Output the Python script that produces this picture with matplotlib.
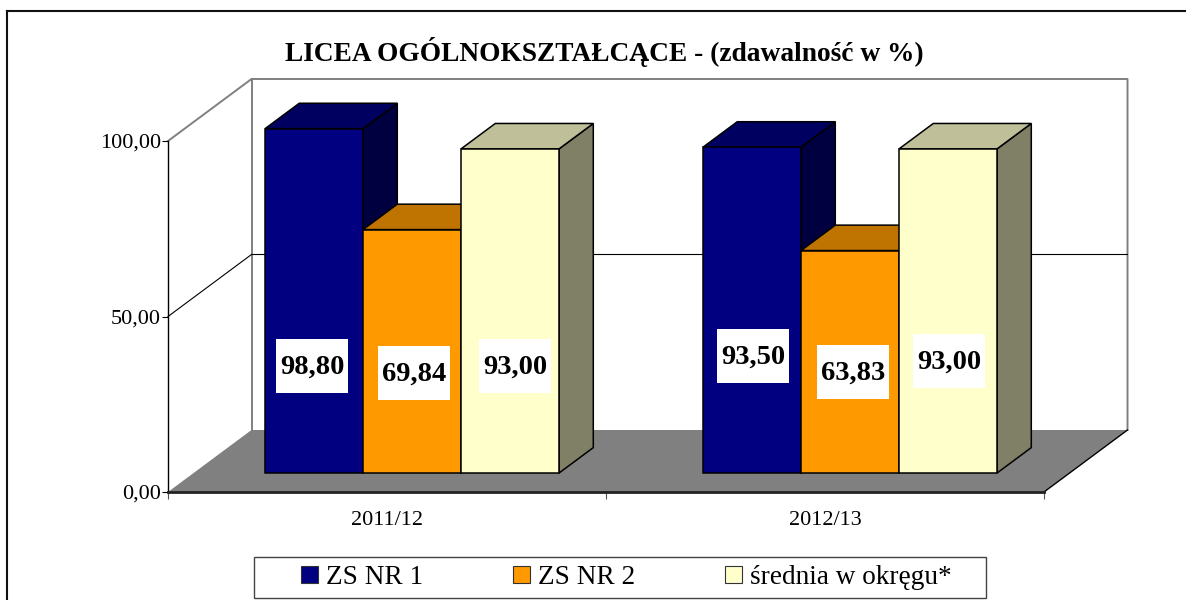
import matplotlib
matplotlib.use("Agg")
import matplotlib.pyplot as plt
from matplotlib.lines import Line2D
from matplotlib.patches import Patch, Polygon, Rectangle
from matplotlib.transforms import IdentityTransform

plt.rcParams['font.family'] = ['Liberation Serif', 'DejaVu Serif']

years = ["2011/12", "2012/13"]
series_names = ["ZS NR 1", "ZS NR 2", "średnia w okręgu*"]
zs1 = [98.80, 93.50]
zs2 = [69.84, 63.83]
okreg = [93.00, 93.00]
y_ticks = [0, 50, 100]

front_colors = ["#000080", "#FF9900", "#FFFFCC"]
top_colors = ["#000060", "#BF7300", "#BFBF99"]
side_colors = ["#000040", "#804D00", "#808066"]

W, H = 1186, 600
fig = plt.figure(figsize=(W / 100, H / 100), dpi=100)
ax = fig.add_axes([168 / W, 1 - 492 / H, 876 / W, 351 / H])
ax.set_xlim(0, 2)
ax.set_ylim(0, 100)

# depth of the fake 3d box, in data units
DX, DY = 83.5 / 438, 62 / 3.51
BAR_W = 98 / 438
MARGIN = 71.5 / 438
BAR_F0 = 0.306  # where the bars start in the box depth
BAR_D = 0.41
BAR_SCALE = 0.993  # bars sit deeper in the box so they come out a bit shorter


def pt(x, y, f=0.0):
    return (x + DX * f, y + DY * f)


# walls and floor
ax.add_patch(Polygon([pt(0, 0, 1), pt(2, 0, 1), pt(2, 100, 1), pt(0, 100, 1)], fc="white", ec="none", zorder=0.5, clip_on=False))
ax.add_patch(Polygon([pt(0, 0), pt(2, 0), pt(2, 0, 1), pt(0, 0, 1)], fc="#808080", ec="none", zorder=0.6, clip_on=False))
grey = dict(color="#808080", lw=1.4, clip_on=False, zorder=0.7, solid_capstyle="projecting")
ax.plot(*zip(pt(0, 100), pt(0, 100, 1), pt(2, 100, 1), pt(2, 0, 1)), **grey)
ax.plot(*zip(pt(0, 0, 1), pt(0, 100, 1)), **grey)
ax.plot(*zip(pt(2, 0), pt(2, 0, 1)), color="black", lw=1, clip_on=False, zorder=0.7)
ax.plot(*zip(pt(0, 50), pt(0, 50, 1), pt(2, 50, 1)), color="black", lw=0.8, clip_on=False, zorder=0.7)

# bars
for g, vals in enumerate(zip(zs1, zs2, okreg)):
    for s, v in enumerate(vals):
        h = v * BAR_SCALE
        x0 = g + MARGIN + s * BAR_W
        x1 = x0 + BAR_W
        f0, f1 = BAR_F0, BAR_F0 + BAR_D
        style = dict(ec="black", lw=1.1, joinstyle="miter", clip_on=False, zorder=3 + g + s * 0.1)
        ax.add_patch(Polygon([pt(x1, 0, f0), pt(x1, 0, f1), pt(x1, h, f1), pt(x1, h, f0)], fc=side_colors[s], **style))
        ax.add_patch(Polygon([pt(x0, h, f0), pt(x1, h, f0), pt(x1, h, f1), pt(x0, h, f1)], fc=top_colors[s], **style))
        ax.add_patch(Polygon([pt(x0, 0, f0), pt(x1, 0, f0), pt(x1, h, f0), pt(x0, h, f0)], fc=front_colors[s], **style))

# value labels, moved by hand in the original
label_x = [[312, 414, 515], [753, 853, 949]]
label_y = [[366, 373, 366], [356, 372, 361]]
for g, vals in enumerate(zip(zs1, zs2, okreg)):
    for s, v in enumerate(vals):
        cx, cy = label_x[g][s], H - label_y[g][s]
        ax.add_patch(Rectangle((cx - 36, cy - 27), 72, 54, transform=IdentityTransform(), fc="white", ec="none",
                               clip_on=False, zorder=9))
        ax.text(cx, cy - 1, f"{v:.2f}".replace(".", ","), transform=IdentityTransform(),
                ha="center", va="center", fontsize=20.5, fontweight="bold", zorder=10)

# axes
for side in ["top", "right"]:
    ax.spines[side].set_visible(False)
ax.patch.set_visible(False)
ax.spines["left"].set_linewidth(1)
ax.spines["bottom"].set_linewidth(2)
ax.spines["bottom"].set_color("#222222")
ax.set_yticks(y_ticks)
ax.set_yticklabels([f"{t:.2f}".replace(".", ",") for t in y_ticks], fontsize=16)
ax.set_xticks([0, 1, 2])
ax.set_xticklabels([])
ax.tick_params(axis="y", length=4, width=0.8, pad=1)
ax.tick_params(axis="x", length=5, width=0.8, color="#555555")
for g, name in enumerate(years):
    ax.text(g + 0.5, -8, name, ha="center", va="center", fontsize=16)

fig.text(604 / W, 1 - 52 / H, "LICEA OGÓLNOKSZTAŁCĄCE - (zdawalność w %)", ha="center", va="center",
         fontsize=19.7, fontweight="bold")

# outer frame, cut off at the right and bottom of the picture
for xs, ys in [([7, 7], [600, 11]), ([7, 1186], [11, 11])]:
    fig.add_artist(Line2D([x / W for x in xs], [1 - y / H for y in ys], color="#111111", lw=1.5))

# legend box is wider than its entries
fig.add_artist(Rectangle((254 / W, 1 - 598 / H), 732 / W, 41 / H, transform=fig.transFigure, fc="white",
                         ec="#444444", lw=1))
handles = [Patch(fc=c, ec="#333333", lw=0.8) for c in front_colors]
leg = fig.legend(handles, series_names, loc="center left", bbox_to_anchor=(301 / W, 1 - 577.5 / H), ncol=3,
                 fontsize=19.6, frameon=False, handlelength=0.62, handleheight=0.62, handletextpad=0.3,
                 columnspacing=3.3, borderpad=0, borderaxespad=0)

fig.savefig("out.png", dpi=100)
